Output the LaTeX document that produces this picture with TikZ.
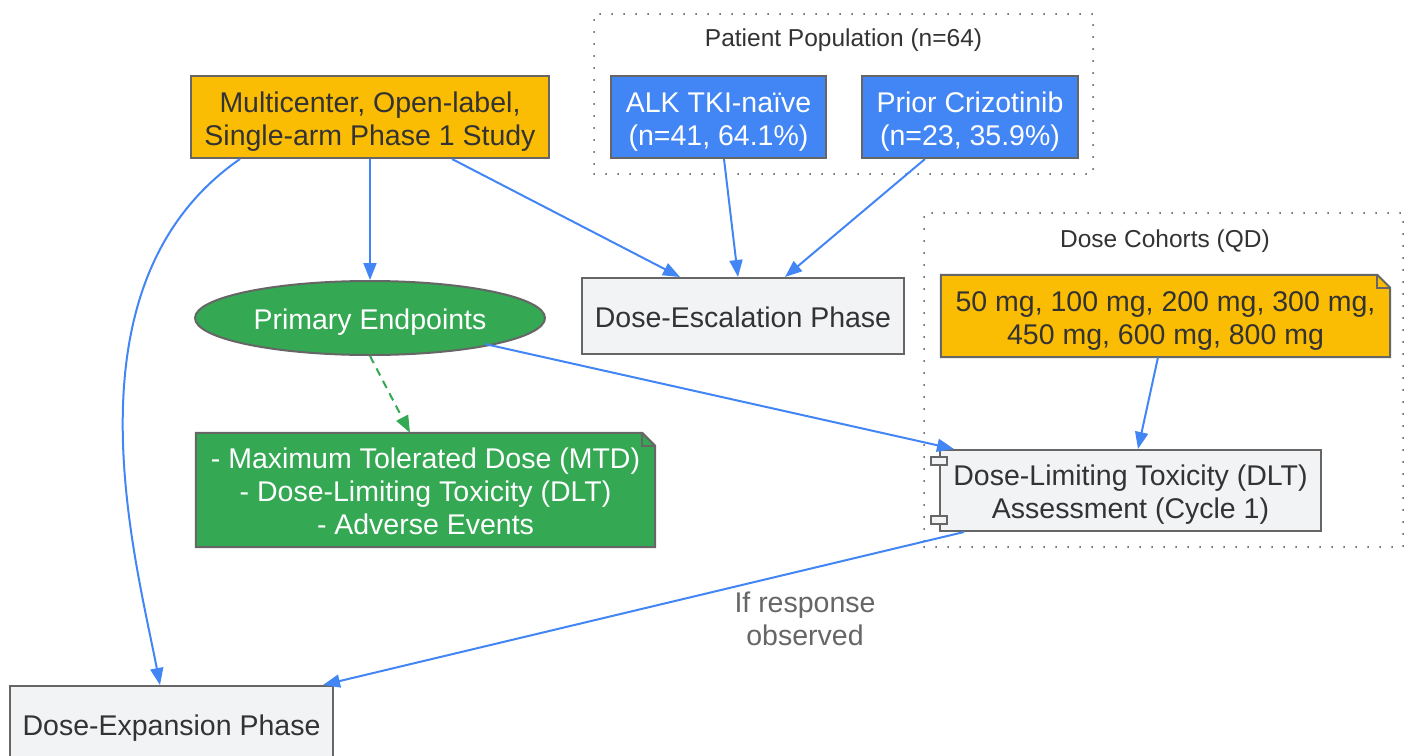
\documentclass[tikz,border=0pt]{standalone}
\usepackage{fontspec}
\setmainfont{Liberation Sans}
\usetikzlibrary{shapes.geometric,arrows.meta,calc,backgrounds}
\definecolor{gyel}{HTML}{FBBC04}
\definecolor{gblue}{HTML}{4285F4}
\definecolor{ggreen}{HTML}{34A853}
\definecolor{glight}{HTML}{F1F3F4}
\definecolor{bd}{HTML}{666666}
\definecolor{txt}{HTML}{333333}
\definecolor{lblc}{HTML}{666666}
\newcommand\mytopstrut{\rule{0pt}{29.5pt}}
\newcommand\mybotstrut{\rule[-6.5pt]{0pt}{6.5pt}}
\begin{document}
\begin{tikzpicture}[x=1pt,y=-1pt,
  base/.style={inner sep=0pt, align=center, font=\fontsize{28.5}{33}\selectfont, text=txt},
  box/.style={base, rectangle, draw=bd, line width=2pt},
  ybox/.style={box, fill=gyel},
  bbox/.style={box, fill=gblue, text=white},
  lbox/.style={box, fill=glight},
  ell/.style={base, ellipse, draw=bd, line width=2pt, fill=ggreen, text=white},
  notebox/.style={base},
  cluster/.style={draw=black!70, line width=2pt, line cap=round, dash pattern=on 0pt off 12pt, inner sep=0pt},
  clbl/.style={inner sep=0pt, font=\fontsize{24.5}{29}\selectfont, text=txt},
  elbl/.style={inner sep=0pt, align=center, font=\fontsize{28.5}{33}\selectfont, text=lblc},
  arr/.style={draw=gblue, line width=2pt, -{Triangle[length=17pt,width=13pt]}},
  darr/.style={draw=ggreen, line width=2pt, dash pattern=on 8pt off 6pt, -{Triangle[length=17pt,width=13pt]}}
]
\useasboundingbox (0,0) rectangle (1415,755);

% clusters
\node[cluster, minimum width=499pt, minimum height=160pt] (ppc) at (843.5,94) {};
\node[clbl] (ppl) at (843.5,40) {Patient Population (n=64)};
\node[cluster, minimum width=479pt, minimum height=334pt] (dcc) at (1163.5,380) {};
\node[clbl] (dcl) at (1165,241) {Dose Cohorts (QD)};

% nodes
\node[ybox, minimum width=358pt, minimum height=82pt] (mc) at (370,117) {\mytopstrut Multicenter, Open-label,\\Single-arm Phase 1 Study\mybotstrut};
\node[bbox, minimum width=215pt, minimum height=82pt] (alk) at (718.5,117) {\mytopstrut ALK TKI-naïve\\(n=41, 64.1\%)\mybotstrut};
\node[bbox, minimum width=216pt, minimum height=82pt] (pr) at (970,117) {\mytopstrut Prior Crizotinib\\(n=23, 35.9\%)\mybotstrut};
\node[lbox, minimum width=322pt, minimum height=76pt] (esc) at (743,316) {\mytopstrut Dose-Escalation Phase\mybotstrut};
\node[ell, minimum width=350pt, minimum height=74pt] (pe) at (370,318) {\mytopstrut Primary Endpoints\mybotstrut};
\node[notebox, minimum width=449pt, minimum height=82pt] (yn) at (1165.5,316) {\mytopstrut 50 mg, 100 mg, 200 mg, 300 mg,\\450 mg, 600 mg, 800 mg\mybotstrut};
\node[lbox, minimum width=381pt, minimum height=81pt] (dlt) at (1130.5,490.5) {\mytopstrut Dose-Limiting Toxicity (DLT)\\Assessment (Cycle 1)\mybotstrut};
\node[notebox, text=white, minimum width=459pt, minimum height=114pt] (gn) at (425.5,490) {\mytopstrut - Maximum Tolerated Dose (MTD)\\- Dose-Limiting Toxicity (DLT)\\- Adverse Events\mybotstrut};
\node[lbox, minimum width=323pt, minimum height=76pt] (exp) at (171.5,724) {\mytopstrut Dose-Expansion Phase\mybotstrut};

% note shapes and component symbols
\begin{scope}[on background layer]
  \foreach \n/\c in {yn/gyel, gn/ggreen}{
    \draw[draw=bd, line width=2pt, fill=\c, line join=miter]
      (\n.north west) -- ($(\n.north east)+(-13,0)$) -- ($(\n.north east)+(0,13)$)
      -- (\n.south east) -- (\n.south west) -- cycle;
    \draw[draw=bd, line width=2pt]
      ($(\n.north east)+(-13,0)$) -- ($(\n.north east)+(-13,13)$) -- ($(\n.north east)+(0,13)$);
  }
\end{scope}
\draw[draw=bd, line width=2pt, fill=glight] ($(dlt.north west)+(-8,8)$) rectangle ($(dlt.north west)+(8,16)$);
\draw[draw=bd, line width=2pt, fill=glight] ($(dlt.south west)+(-8,-16)$) rectangle ($(dlt.south west)+(8,-8)$);

% edges
\draw[arr] (mc.south) -- (pe.north);
\draw[arr] ($(mc.south)+(82,0)$) -- ($(esc.north)+(-63,0)$);
\draw[arr] ($(mc.south)+(-130,0)$) .. controls (60,284) and (135,555) .. ($(exp.north)+(-11.5,0)$);
\draw[arr] ($(alk.south)+(5.5,0)$) -- ($(esc.north)+(-5,0)$);
\draw[arr] ($(pr.south)+(-45,0)$) -- ($(esc.north)+(42,0)$);
\draw[darr] (pe.south) -- ($(gn.north)+(-15.5,0)$);
\draw[arr] ($(pe.center)+(115,26)$) -- ($(dlt.north west)+(15,0)$);
\draw[arr] ($(yn.south)+(-7.5,0)$) -- ($(dlt.north)+(7.5,0)$);
\draw[arr] ($(dlt.south west)+(25,0)$) -- ($(exp.north east)+(-11,0)$);
\node[elbl] (el) at (805,619) {If response\\observed};
\end{tikzpicture}
\end{document}
